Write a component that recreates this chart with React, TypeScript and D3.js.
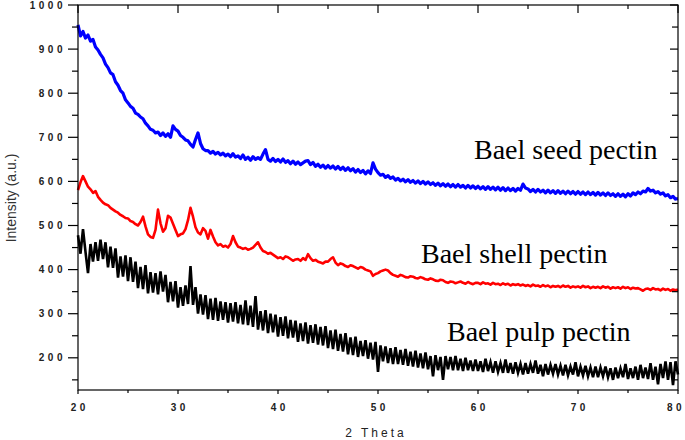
import React from 'react';
import { scaleLinear, line } from 'd3';

// 2θ sampling of the three patterns: one value every 0.25° from 20° to 80°
const thetaStart = 20;
const thetaStep = 0.25;

// Bael seed pectin (blue)
const seedValues = [
  955, 930, 940, 925, 932, 918, 922, 905, 898, 888, 880, 866, 858, 846, 842, 826,
  818, 806, 800, 785, 778, 770, 766, 755, 752, 746, 742, 732, 726, 718, 716, 710,
  712, 704, 710, 702, 708, 700, 726, 718, 714, 704, 700, 694, 692, 684, 678, 695,
  710, 686, 674, 670, 670, 664, 668, 662, 666, 660, 664, 658, 662, 656, 663, 655,
  658, 652, 660, 650, 655, 648, 656, 650, 654, 650, 662, 672, 650, 646, 652, 645,
  650, 644, 651, 643, 647, 640, 646, 639, 644, 638, 642, 646, 647, 638, 643, 634,
  639, 632, 637, 630, 636, 630, 635, 628, 634, 627, 632, 625, 631, 624, 629, 621,
  627, 620, 625, 617, 624, 618, 642, 628, 620, 614, 616, 609, 613, 607, 610, 603,
  607, 601, 605, 599, 604, 598, 602, 596, 601, 595, 600, 594, 599, 593, 597, 591,
  596, 590, 595, 589, 594, 588, 593, 587, 593, 587, 591, 585, 591, 585, 590, 584,
  589, 583, 588, 582, 588, 582, 587, 581, 587, 580, 586, 579, 585, 579, 584, 578,
  584, 580, 594, 585, 583, 577, 582, 576, 582, 576, 580, 574, 580, 574, 579, 573,
  579, 573, 578, 572, 578, 572, 577, 571, 577, 571, 576, 570, 576, 570, 575, 569,
  575, 569, 574, 568, 574, 568, 572, 566, 572, 566, 571, 565, 572, 567, 574, 570,
  576, 572, 578, 576, 584, 578, 580, 574, 577, 571, 574, 567, 570, 563, 566, 560,
  561,
];

// Bael shell pectin (red)
const shellValues = [
  580, 598, 612, 600, 588, 582, 574, 578, 565, 558, 552, 548, 546, 540, 536, 532,
  529, 524, 521, 517, 516, 510, 508, 503, 500, 508, 520, 498, 480, 474, 472, 490,
  536, 505, 486, 494, 522, 518, 504, 490, 476, 480, 482, 492, 512, 540, 520, 496,
  484, 480, 494, 488, 470, 490, 475, 462, 455, 458, 452, 454, 450, 458, 476, 462,
  452, 450, 447, 449, 445, 447, 450, 456, 462, 450, 442, 440, 436, 438, 434, 430,
  426, 428, 424, 430, 428, 424, 420, 423, 424, 420, 426, 422, 435, 426, 420, 422,
  418, 416, 414, 418, 418, 424, 428, 416, 410, 414, 412, 408, 406, 410, 408, 405,
  402, 406, 404, 400, 398, 396, 386, 390, 392, 396, 398, 400, 398, 392, 388, 386,
  384, 388, 386, 383, 382, 385, 384, 381, 380, 383, 381, 378, 377, 380, 378, 375,
  374, 377, 376, 372, 370, 373, 372, 369, 371, 373, 370, 368, 372, 369, 367, 370,
  370, 367, 371, 368, 369, 366, 370, 367, 368, 365, 369, 366, 368, 364, 367, 365,
  367, 364, 366, 363, 365, 362, 366, 363, 364, 361, 365, 362, 364, 360, 363, 361,
  363, 360, 364, 361, 363, 359, 362, 360, 362, 359, 363, 360, 362, 358, 361, 359,
  361, 358, 362, 359, 361, 357, 360, 358, 360, 357, 361, 358, 360, 356, 359, 357,
  358, 355, 352, 356, 357, 354, 358, 355, 356, 353, 357, 354, 356, 352, 355, 353,
  355,
];

// Bael pulp pectin (black)
const pulpValues = [
  478, 436, 492, 440, 392, 458, 418, 462, 420, 468, 424, 462, 405, 452, 404, 448,
  382, 430, 384, 432, 374, 428, 372, 418, 358, 406, 356, 410, 346, 394, 348, 392,
  344, 396, 350, 388, 326, 372, 328, 374, 314, 360, 318, 364, 322, 408, 320, 360,
  300, 344, 298, 342, 288, 334, 286, 336, 284, 328, 286, 326, 280, 324, 282, 326,
  278, 320, 276, 330, 274, 318, 270, 340, 264, 306, 262, 308, 256, 300, 258, 298,
  248, 292, 250, 294, 244, 286, 246, 284, 236, 278, 238, 280, 232, 274, 234, 276,
  230, 270, 228, 272, 222, 262, 220, 264, 216, 254, 214, 256, 208, 246, 206, 248,
  202, 238, 204, 240, 198, 234, 196, 236, 168, 228, 192, 226, 188, 222, 186, 224,
  186, 218, 184, 220, 182, 214, 180, 216, 178, 210, 176, 212, 174, 204, 158, 206,
  172, 202, 150, 204, 174, 202, 172, 204, 172, 198, 170, 200, 172, 194, 170, 196,
  170, 192, 168, 198, 170, 190, 166, 192, 168, 188, 166, 196, 166, 188, 164, 190,
  166, 186, 162, 188, 164, 186, 166, 194, 164, 184, 158, 186, 162, 184, 164, 186,
  162, 182, 160, 184, 160, 180, 162, 190, 158, 180, 160, 182, 158, 178, 156, 180,
  156, 178, 158, 180, 156, 176, 150, 178, 154, 176, 156, 186, 152, 176, 154, 180,
  150, 184, 154, 178, 152, 188, 150, 180, 140, 186, 154, 192, 150, 190, 138, 192,
  162,
];

const xMajorTicks = [20, 30, 40, 50, 60, 70, 80];
const xMinorTicks = [25, 35, 45, 55, 65, 75];
const yMajorTicks = [200, 300, 400, 500, 600, 700, 800, 900, 1000];
const yMinorTicks = [150, 250, 350, 450, 550, 650, 750, 850, 950];

const labels = [
  { text: 'Bael seed pectin', x: 474, y: 159 },
  { text: 'Bael shell pectin', x: 421, y: 263 },
  { text: 'Bael pulp pectin', x: 447, y: 341 },
];

const W = 685;
const H = 440;
const left = 78;
const right = 678;
const top = 5;
const bottom = 390;

const App = () => {
  const x = scaleLinear().domain([20, 80]).range([left, right]);
  const y = scaleLinear().domain([127, 1000]).range([bottom, top]);

  const pathFor = (values: number[]) =>
    line<number>()
      .x((_, i) => x(thetaStart + i * thetaStep))
      .y(v => y(v))(values) || '';

  const tickFont = {
    fontFamily: '"Liberation Sans", Arial, sans-serif',
    fontWeight: 700,
    fontSize: 10,
    letterSpacing: 3.5,
    fill: '#222',
  };

  // the last x label sits right at the page edge, keep it inside
  const xLabelPos = (t: number) => Math.min(x(t) + 1.75, W - 9);

  return (
    <svg width={W} height={H} style={{ position: 'absolute', left: 0, top: 0, background: '#fff' }}>
      <rect x={0} y={0} width={W} height={H} fill="#fff" />

      <path d={pathFor(pulpValues)} fill="none" stroke="#000" strokeWidth={2.6} strokeLinejoin="miter" />
      <path d={pathFor(shellValues)} fill="none" stroke="#ff0000" strokeWidth={2.6} strokeLinejoin="round" />
      <path d={pathFor(seedValues)} fill="none" stroke="#0000ff" strokeWidth={3.2} strokeLinejoin="round" />

      {/* frame */}
      <rect x={left} y={top} width={right - left} height={bottom - top} fill="none" stroke="#000" strokeWidth={1.2} />

      {/* x ticks */}
      {xMajorTicks.map(t => (
        <g key={'xM' + t}>
          <line x1={x(t)} x2={x(t)} y1={bottom} y2={bottom + 4} stroke="#000" strokeWidth={1.2} />
          <line x1={x(t)} x2={x(t)} y1={top} y2={top + 8} stroke="#000" strokeWidth={1.2} />
          <text x={xLabelPos(t)} y={411} textAnchor="middle" style={tickFont}>{t}</text>
        </g>
      ))}
      {xMinorTicks.map(t => (
        <g key={'xm' + t}>
          <line x1={x(t)} x2={x(t)} y1={bottom} y2={bottom + 3} stroke="#000" strokeWidth={1.2} />
          <line x1={x(t)} x2={x(t)} y1={top} y2={top + 4} stroke="#000" strokeWidth={1.2} />
        </g>
      ))}

      {/* y ticks */}
      {yMajorTicks.map(t => (
        <g key={'yM' + t}>
          <line x1={left - 10} x2={left} y1={y(t)} y2={y(t)} stroke="#000" strokeWidth={1.2} />
          <line x1={right - 8} x2={right} y1={y(t)} y2={y(t)} stroke="#000" strokeWidth={1.2} />
          <text x={66} y={y(t) + 3.5} textAnchor="end" style={tickFont}>{t}</text>
        </g>
      ))}
      {yMinorTicks.map(t => (
        <g key={'ym' + t}>
          <line x1={left - 6} x2={left} y1={y(t)} y2={y(t)} stroke="#000" strokeWidth={1.2} />
          <line x1={right - 6} x2={right} y1={y(t)} y2={y(t)} stroke="#000" strokeWidth={1.2} />
        </g>
      ))}

      <text
        x={376}
        y={437}
        textAnchor="middle"
        style={{ fontFamily: '"Liberation Sans", Arial, sans-serif', fontSize: 12, letterSpacing: 3, fill: '#222' }}
      >
        2 Theta
      </text>
      <text
        transform="translate(16,198) rotate(-90)"
        textAnchor="middle"
        style={{ fontFamily: '"Liberation Sans", Arial, sans-serif', fontSize: 14, fill: '#333' }}
      >
        Intensity (a.u.)
      </text>

      {labels.map(l => (
        <text
          key={l.text}
          x={l.x}
          y={l.y}
          style={{ fontFamily: '"Liberation Serif", "Times New Roman", serif', fontSize: 28, fill: '#000' }}
        >
          {l.text}
        </text>
      ))}
    </svg>
  );
};

export default App;
